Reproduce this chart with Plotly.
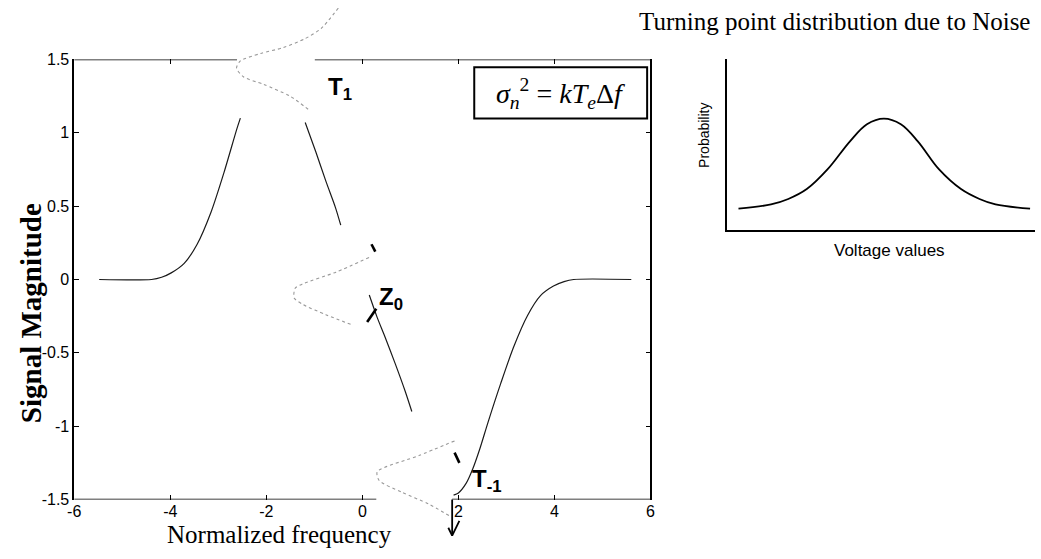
import plotly.graph_objects as go

W, H = 1041, 559

# Main plot box (pixels) and its data ranges
PX_L, PX_R, PX_T, PX_B = 68, 651, 53, 507
X_RANGE = [-6, 6]
Y_RANGE = [-1.5, 1.5]
x_ticks = [-6, -4, -2, 0, 2, 4, 6]
x_ticks_top = [-6, -4, 0, 2, 4, 6]
y_ticks = [-1.5, -1, -0.5, 0, 0.5, 1, 1.5]

# Signal pieces (normalized frequency, magnitude)
rise_x = [-5.48, -4.39, -4.18, -3.98, -3.71, -3.44, -3.15, -2.88, -2.61, -2.54]
rise_y = [0.0, 0.0, 0.015, 0.045, 0.11, 0.24, 0.46, 0.73, 1.03, 1.10]

fall_x = [-1.19, -0.97, -0.76, -0.56, -0.45]
fall_y = [1.07, 0.87, 0.67, 0.49, 0.37]

zero_x = [0.144, 0.31, 0.47, 0.68, 0.89, 1.03]
zero_y = [-0.106, -0.26, -0.39, -0.57, -0.76, -0.90]

trough_x = [1.90, 2.0, 2.16, 2.30, 2.45, 2.62, 2.88, 3.15, 3.44, 3.71, 3.98, 4.2, 4.4, 5.6]
trough_y = [-1.47, -1.455, -1.39, -1.29, -1.15, -0.97, -0.71, -0.46, -0.245, -0.11, -0.045, -0.015, 0.0, 0.0]

# Short heavy strokes marking the sampled points
strokes = [
    ([0.19, 0.27], [0.24, 0.19]),
    ([0.10, 0.29], [-0.29, -0.20]),
    ([1.92, 2.02], [-1.18, -1.25]),
]

# Noise distributions drawn sideways at each turning point
dist_t1_x = [-0.50, -0.86, -1.20, -1.65, -2.12, -2.54, -2.62, -2.47, -2.06, -1.51, -1.09]
dist_t1_y = [1.85, 1.71, 1.64, 1.58, 1.54, 1.49, 1.44, 1.38, 1.33, 1.25, 1.15]

dist_z0_x = [0.14, -0.55, -1.24, -1.40, -1.42, -1.24, -0.76, -0.21]
dist_z0_y = [0.15, 0.05, -0.03, -0.06, -0.126, -0.17, -0.24, -0.31]

dist_tm1_x = [1.92, 1.18, 0.31, 0.35, 0.82, 1.38, 1.81]
dist_tm1_y = [-1.10, -1.20, -1.31, -1.37, -1.45, -1.53, -1.61]

# Downward arrow below the axis break
arrow_shaft_x = [1.87, 1.87]
arrow_shaft_y = [-1.5, -1.745]
arrow_head_x = [1.79, 1.87, 2.02]
arrow_head_y = [-1.692, -1.745, -1.645]

# Axis frame pieces (broken where the distributions cross)
frame_top = [(-6, -2.61), (-0.99, 6)]
frame_bottom = [(-6, 0.29), (1.87, 6)]

# Formula box extent (data units)
box_x = [2.33, 5.93]
box_y = [1.097, 1.447]

# Inset: probability of turning-point voltage
inset_v = [0.385, 1.44, 2.0, 2.6, 3.27, 4.0, 4.55, 5.10, 5.65, 6.2, 6.89, 7.6, 8.2, 8.72, 9.84]
inset_p = [0.125, 0.150, 0.182, 0.240, 0.355, 0.52, 0.62, 0.653, 0.62, 0.52, 0.355, 0.240, 0.182, 0.150, 0.125]
INSET_BOX = (728, 1040, 53, 229)  # left, right, top, bottom pixels

# Overlay axes covering the whole page, same scale as the main plot
ux = (PX_R - PX_L) / (X_RANGE[1] - X_RANGE[0])
uy = (PX_B - PX_T) / (Y_RANGE[1] - Y_RANGE[0])
x2_range = [X_RANGE[0] - PX_L / ux, X_RANGE[1] + (W - PX_R) / ux]
y2_range = [Y_RANGE[0] - (H - PX_B) / uy, Y_RANGE[1] + PX_T / uy]


def fx(px):
    return px / W


def fy(py):
    return 1 - py / H


fig = go.Figure()

curve = dict(color="#1a1a1a", width=1.2)
for xs, ys in [(rise_x, rise_y), (fall_x, fall_y), (zero_x, zero_y), (trough_x, trough_y)]:
    fig.add_trace(go.Scatter(x=xs, y=ys, mode="lines", line=dict(shape="spline", smoothing=0.8, **curve),
                             xaxis="x", yaxis="y", showlegend=False, hoverinfo="skip"))

for xs, ys in strokes:
    fig.add_trace(go.Scatter(x=xs, y=ys, mode="lines", line=dict(color="black", width=2.6),
                             xaxis="x", yaxis="y", showlegend=False, hoverinfo="skip"))

dotted = dict(color="#999999", width=1.1, dash="dot", shape="spline", smoothing=0.7)
for xs, ys in [(dist_t1_x, dist_t1_y), (dist_z0_x, dist_z0_y), (dist_tm1_x, dist_tm1_y)]:
    fig.add_trace(go.Scatter(x=xs, y=ys, mode="lines", line=dotted,
                             xaxis="x2", yaxis="y2", showlegend=False, hoverinfo="skip"))

for xs, ys in [(arrow_shaft_x, arrow_shaft_y), (arrow_head_x, arrow_head_y)]:
    fig.add_trace(go.Scatter(x=xs, y=ys, mode="lines", line=dict(color="black", width=1.8),
                             xaxis="x2", yaxis="y2", showlegend=False, hoverinfo="skip"))

fig.add_trace(go.Scatter(x=inset_v, y=inset_p, mode="lines",
                         line=dict(color="black", width=1.8, shape="spline", smoothing=1.0),
                         xaxis="x3", yaxis="y3", showlegend=False, hoverinfo="skip"))

shapes = []
for x0, x1 in frame_top:
    shapes.append(dict(type="line", xref="x", yref="y", x0=x0, x1=x1, y0=Y_RANGE[1], y1=Y_RANGE[1],
                       line=dict(color="black", width=1.5)))
for x0, x1 in frame_bottom:
    shapes.append(dict(type="line", xref="x", yref="y", x0=x0, x1=x1, y0=Y_RANGE[0], y1=Y_RANGE[0],
                       line=dict(color="black", width=1.5)))
shapes.append(dict(type="rect", xref="x", yref="y", x0=box_x[0], x1=box_x[1], y0=box_y[0], y1=box_y[1],
                   line=dict(color="black", width=2), fillcolor="white"))

tick_font = dict(family="Liberation Sans, Arial, sans-serif", size=16, color="black")
label_font = dict(family="Liberation Sans, Arial, sans-serif", size=24, color="black")
serif = "Liberation Serif, Times New Roman, serif"

annotations = [
    dict(text="<b>T<sub>1</sub></b>", x=-0.76, y=1.30, xref="x", yref="y",
         xanchor="left", yanchor="middle", showarrow=False, font=label_font),
    dict(text="<b>Z<sub>0</sub></b>", x=0.31, y=-0.13, xref="x", yref="y",
         xanchor="left", yanchor="middle", showarrow=False, font=label_font),
    dict(text="<b>T<sub>-1</sub></b>", x=2.24, y=-1.37, xref="x", yref="y",
         xanchor="left", yanchor="middle", showarrow=False, font=label_font),
    dict(text="<i>σ</i><sub><i>n</i></sub><sup>2</sup> = <i>kT</i><sub><i>e</i></sub>Δ<i>f</i>",
         x=sum(box_x) / 2, y=1.27, xref="x", yref="y", xanchor="center", yanchor="middle", showarrow=False,
         font=dict(family=serif, size=28, color="black")),
    dict(text="Normalized frequency", x=fx(276), y=fy(543), xref="paper", yref="paper",
         xanchor="center", yanchor="middle", showarrow=False,
         font=dict(family=serif, size=25, color="black")),
    dict(text="<b>Signal Magnitude</b>", x=fx(25), y=fy(315), xref="paper", yref="paper",
         xanchor="center", yanchor="middle", showarrow=False, textangle=-90,
         font=dict(family=serif, size=29, color="black")),
    dict(text="Turning point distribution due to Noise", x=fx(1037), y=fy(14), xref="paper", yref="paper",
         xanchor="right", yanchor="middle", showarrow=False,
         font=dict(family=serif, size=25, color="black")),
    dict(text="Probability", x=fx(705), y=fy(131), xref="paper", yref="paper",
         xanchor="center", yanchor="middle", showarrow=False, textangle=-90,
         font=dict(family="Liberation Sans, Arial, sans-serif", size=14, color="black")),
    dict(text="Voltage values", x=fx(893), y=fy(250), xref="paper", yref="paper",
         xanchor="center", yanchor="middle", showarrow=False,
         font=dict(family="Liberation Sans, Arial, sans-serif", size=17, color="black")),
]

il, ir, it, ib = INSET_BOX
fig.update_layout(
    width=W, height=H,
    margin=dict(l=0, r=0, t=0, b=0),
    paper_bgcolor="white", plot_bgcolor="rgba(0,0,0,0)",
    showlegend=False,
    xaxis=dict(domain=[fx(PX_L), fx(PX_R)], range=X_RANGE, anchor="y",
               tickmode="array", tickvals=x_ticks, ticktext=[str(v) for v in x_ticks],
               ticks="inside", ticklen=5, tickwidth=1, tickcolor="black",
               showline=False, showgrid=False, zeroline=False, tickfont=tick_font, ticklabelstandoff=0),
    xaxis4=dict(overlaying="x", side="top", range=X_RANGE, anchor="y",
                tickmode="array", tickvals=x_ticks_top, showticklabels=False,
                ticks="inside", ticklen=5, tickwidth=1, tickcolor="black",
                showline=False, showgrid=False, zeroline=False),
    yaxis=dict(domain=[fy(PX_B), fy(PX_T)], range=Y_RANGE, anchor="x",
               tickmode="array", tickvals=y_ticks, ticktext=[f"{v:g}" for v in y_ticks],
               ticks="inside", ticklen=5, tickwidth=1, tickcolor="black", mirror="ticks",
               showline=True, linecolor="black", linewidth=1.5,
               showgrid=False, zeroline=False, tickfont=tick_font),
    xaxis2=dict(domain=[0, 1], range=x2_range, anchor="y2", visible=False),
    yaxis2=dict(domain=[0, 1], range=y2_range, anchor="x2", visible=False),
    xaxis3=dict(domain=[fx(il), fx(ir)], range=[0, 10], anchor="y3",
                showline=True, linecolor="black", linewidth=2, showticklabels=False,
                ticks="", showgrid=False, zeroline=False),
    yaxis3=dict(domain=[fy(ib), fy(it)], range=[0, 1], anchor="x3",
                showline=True, linecolor="black", linewidth=2, showticklabels=False,
                ticks="", showgrid=False, zeroline=False),
    shapes=shapes,
    annotations=annotations,
)

# A hidden trace keeps the top tick axis active
fig.add_trace(go.Scatter(x=[X_RANGE[0]], y=[Y_RANGE[0]], mode="markers", marker=dict(opacity=0),
                         xaxis="x4", yaxis="y", showlegend=False, hoverinfo="skip"))

fig.write_html("out.html")
